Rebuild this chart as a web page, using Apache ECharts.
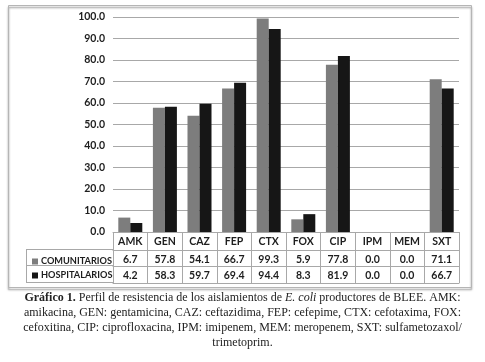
<!DOCTYPE html>
<html>
<head>
<meta charset="utf-8">
<script src="https://cdn.jsdelivr.net/npm/echarts@6/dist/echarts.min.js"></script>
<style>
  html, body { margin: 0; padding: 0; background: #fff; }
  #chart { width: 485px; height: 362px; }
</style>
</head>
<body>
<div id="chart"></div>
<script>
  // datos del gráfico
  const antibioticos = ['AMK', 'GEN', 'CAZ', 'FEP', 'CTX', 'FOX', 'CIP', 'IPM', 'MEM', 'SXT']
  const comunitarios = [6.7, 57.8, 54.1, 66.7, 99.3, 5.9, 77.8, 0.0, 0.0, 71.1]
  const hospitalarios = [4.2, 58.3, 59.7, 69.4, 94.4, 8.3, 81.9, 0.0, 0.0, 66.7]
  const seriesNames = ['COMUNITARIOS', 'HOSPITALARIOS']
  const captionLines = [
    [['b', 'Gráfico 1.'], ['n', ' Perfil de resistencia de los aislamientos de '], ['i', 'E. coli'], ['n', ' productores de BLEE. AMK:']],
    [['n', 'amikacina, GEN: gentamicina, CAZ: ceftazidima, FEP: cefepime, CTX: cefotaxima, FOX:']],
    [['n', 'cefoxitina, CIP: ciprofloxacina, IPM: imipenem, MEM: meropenem, SXT: sulfametozaxol/']],
    [['n', 'trimetoprim.']]
  ]

  const lineColor = '#a8a8a8'
  const txtColor = '#1e1e1e'
  const font = 'Lato'

  const chart = echarts.init(document.getElementById('chart'), null, { renderer: 'canvas' })

  // eje para cada fila de la tabla
  const tableAxis = (data, offset, showLabel) => ({
    type: 'category',
    data: data,
    position: 'bottom',
    offset: offset,
    axisLine: { show: true, lineStyle: { color: lineColor, width: 1 } },
    axisTick: { show: false },
    axisLabel: {
      show: showLabel, margin: 4, color: txtColor,
      fontFamily: font, fontSize: 10.5, fontWeight: 'bold'
    }
  })

  const caption = captionLines.map((parts, i) => ({
    type: 'text',
    left: 'center',
    top: 292 + i * 15,
    style: {
      text: parts.map(p => '{' + p[0] + '|' + p[1] + '}').join(''),
      rich: {
        n: { fontFamily: 'Liberation Serif', fontSize: 12, fill: '#222' },
        b: { fontFamily: 'Liberation Serif', fontSize: 12, fontWeight: 'bold', fill: '#222' },
        i: { fontFamily: 'Liberation Serif', fontSize: 12, fontStyle: 'italic', fill: '#222' }
      }
    }
  }))

  chart.setOption({
    animation: false,
    grid: { left: 113, right: 26, top: 17, bottom: 130 },
    legend: {
      orient: 'vertical',
      left: 27,
      top: 252,
      itemWidth: 6,
      itemHeight: 6,
      itemGap: 5,
      icon: 'rect',
      data: seriesNames,
      textStyle: { fontFamily: font, fontSize: 9.2, fontWeight: 'bold', color: txtColor, padding: [0, 0, 0, -2] }
    },
    xAxis: [
      {
        type: 'category',
        data: antibioticos,
        position: 'bottom',
        axisLine: { show: true, lineStyle: { color: lineColor } },
        axisTick: { show: true, length: 51, lineStyle: { color: lineColor } },
        axisLabel: { margin: 4, color: txtColor, fontFamily: font, fontSize: 10.5, fontWeight: 'bold' }
      },
      tableAxis(comunitarios.map(v => v.toFixed(1)), 18, true),
      tableAxis(hospitalarios.map(v => v.toFixed(1)), 34, true),
      tableAxis(antibioticos, 51, false)
    ],
    yAxis: {
      type: 'value',
      min: 0,
      max: 100,
      interval: 10,
      axisLine: { show: false },
      axisTick: { show: false },
      axisLabel: {
        formatter: v => v.toFixed(1),
        margin: 8, color: txtColor, fontFamily: font, fontSize: 10.5, fontWeight: 'bold'
      },
      splitLine: { lineStyle: { color: lineColor, width: 1 } }
    },
    series: [
      {
        name: seriesNames[0],
        type: 'bar',
        data: comunitarios,
        barWidth: 12,
        barGap: '0%',
        itemStyle: { color: '#7d7d7d' }
      },
      {
        name: seriesNames[1],
        type: 'bar',
        data: hospitalarios,
        barWidth: 12,
        itemStyle: { color: '#161616' }
      }
    ],
    graphic: [
      {
        type: 'rect',
        shape: { x: 8.5, y: 5.5, width: 463, height: 282 },
        style: { fill: 'none', stroke: '#b5b5b5', lineWidth: 1, shadowBlur: 2, shadowOffsetY: 2, shadowColor: 'rgba(0,0,0,0.5)' },
        z: -10
      },
      { type: 'line', shape: { x1: 26, y1: 249.5, x2: 113, y2: 249.5 }, style: { stroke: lineColor } },
      { type: 'line', shape: { x1: 26, y1: 265.5, x2: 113, y2: 265.5 }, style: { stroke: lineColor } },
      { type: 'line', shape: { x1: 26, y1: 282.5, x2: 113, y2: 282.5 }, style: { stroke: lineColor } },
      { type: 'line', shape: { x1: 26.5, y1: 249.5, x2: 26.5, y2: 282.5 }, style: { stroke: lineColor } },
      ...caption
    ]
  })
</script>
</body>
</html>
